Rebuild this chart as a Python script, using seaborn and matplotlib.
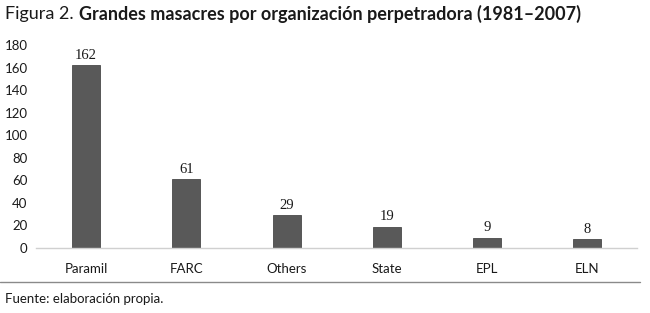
import numpy as np
import matplotlib
matplotlib.use("Agg")
import matplotlib.pyplot as plt
import pandas as pd
import seaborn as sns

## Datos: grandes masacres por organizacion perpetradora (1981-2007)
organizaciones = ["Paramil", "FARC", "Others", "State", "EPL", "ELN"]
masacres       = [162, 61, 29, 19, 9, 8]
yticks         = [0, 20, 40, 60, 80, 100, 120, 140, 160, 180]

df = pd.DataFrame({"org": organizaciones, "n": masacres})

sns.set_style("white")
plt.rcParams["font.family"] = ["Lato", "DejaVu Sans"]

fig = plt.figure(figsize=(6.5, 3.13), dpi=100)
ax = fig.add_axes([0.0554, 0.2077, 0.925, 0.648])

sns.barplot(data=df, x="org", y="n", color="#595959", saturation=1,
            width=0.28, ax=ax, edgecolor="#4a4a4a", linewidth=0.6)

for i, v in enumerate(masacres):
    ax.text(i, v + 3, str(v), ha="center", va="bottom", fontsize=10.5,
            family=["Liberation Serif"], color="#1a1a1a")

ax.set_ylim(0, 180)
ax.set_yticks(yticks)
ax.set_xlim(-0.5, 5.5)
ax.set_xlabel("")
ax.set_ylabel("")
ax.tick_params(axis="both", length=0, labelsize=9.5, colors="#1a1a1a")
ax.tick_params(axis="x", pad=11)
ax.tick_params(axis="y", pad=6)
for s in ["top", "right", "left"]:
    ax.spines[s].set_visible(False)
ax.spines["bottom"].set_color("#d0d0d0")
ax.spines["bottom"].set_linewidth(1)

## Titulo
fig.text(0.008, 0.955, "Figura 2. ", fontsize=13, va="center", ha="left",
         color="#1a1a1a")
fig.text(0.121, 0.955, "Grandes masacres por organización perpetradora (1981\u20132007)",
         fontsize=13, fontweight="bold", va="center", ha="left", color="#1a1a1a")

## Linea inferior y fuente
fig.add_artist(plt.Line2D([0.0, 0.985], [0.099, 0.099], color="#8a8a8a", lw=1))
fig.text(0.008, 0.045, "Fuente: elaboración propia.", fontsize=9.5,
         va="center", ha="left", color="#1a1a1a")

fig.savefig("out.png", dpi=100)
